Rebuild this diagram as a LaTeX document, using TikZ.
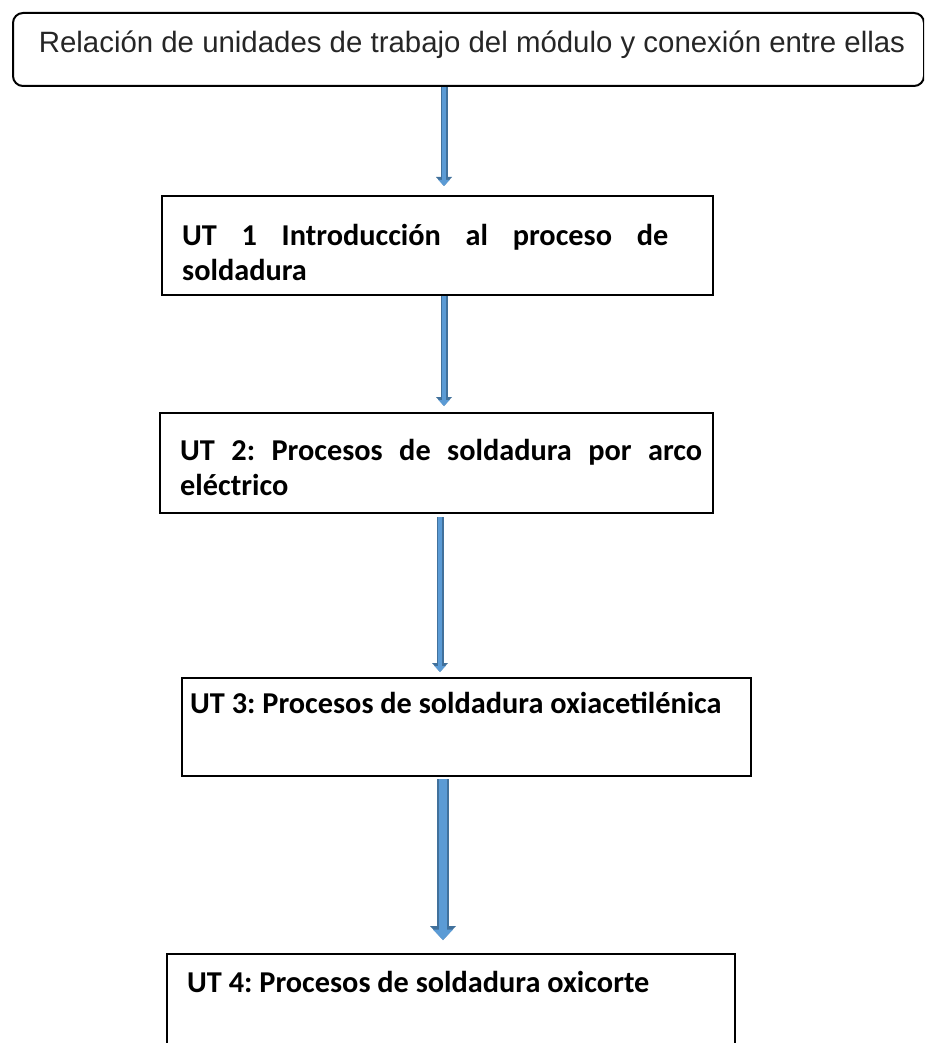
\documentclass[tikz,border=0pt]{standalone}
\usepackage{fontspec}
\setmainfont{Carlito}
\newfontfamily\arialfont{Liberation Sans}
\usetikzlibrary{arrows.meta,calc,positioning}
\definecolor{arrowFill}{HTML}{5B9BD5}
\definecolor{arrowLine}{HTML}{41719C}
\definecolor{titleInk}{HTML}{262626}
\hyphenpenalty=10000
\exhyphenpenalty=10000
\frenchspacing
\begin{document}
\begin{tikzpicture}[x=1pt,y=-1pt,
    utBox/.style={rectangle,draw=black,line width=2pt,inner sep=0pt,anchor=north west},
    titleBox/.style={utBox,rounded corners=10pt},
    titleText/.style={anchor=base,inner sep=0pt,text=titleInk,font=\arialfont\fontsize{29.4}{34}\selectfont},
    utText/.style={anchor=base west,inner sep=0pt,align=justify,font=\fontsize{30.3}{35}\bfseries\selectfont},
    flowArrow/.style={draw=arrowLine,line width=7pt,-{Triangle[width=16pt,length=9pt,line width=0pt]},
        postaction={draw=arrowFill,line width=4pt,-{Triangle[width=11pt,length=6pt,line width=0pt]}}},
    flowArrowBig/.style={draw=arrowLine,line width=12pt,-{Triangle[width=26pt,length=14pt,line width=0pt]},
        postaction={draw=arrowFill,line width=8.5pt,-{Triangle[width=20pt,length=10.5pt,line width=0pt]}}},
]
\useasboundingbox (0,0) rectangle (924,1043);
\clip (0,0) rectangle (924,1043);
% === title ===
\node[titleBox,minimum width=911pt,minimum height=73pt] (title) at (12,12) {};
\node[titleText] (titleTxt) at (472,53) {Relación de unidades de trabajo del módulo y conexión entre ellas};
% === units ===
\node[utBox,minimum width=551pt,minimum height=99pt] (ut1) at (161,195) {};
\node[utText,text width=486pt] (ut1Txt) at (182,245) {UT 1 Introducción al proceso de soldadura};
\node[utBox,minimum width=553pt,minimum height=100pt] (ut2) at (159,412) {};
\node[utText,text width=522pt] (ut2Txt) at (180,460) {UT 2: Procesos de soldadura por arco eléctrico};
\node[utBox,minimum width=569pt,minimum height=98pt] (ut3) at (181,677) {};
\node[utText] (ut3Txt) at (190,713) {UT 3: Procesos de soldadura oxiacetilénica};
\node[utBox,minimum width=568pt,minimum height=120pt] (ut4) at (166,953) {};
\node[utText] (ut4Txt) at (187,992) {UT 4: Procesos de soldadura oxicorte};
% === arrows ===
\draw[flowArrow,shorten >=9pt] ($(ut1.north |- title.south)+(6.5,0)$) -- ($(ut1.north)+(6.5,0)$);
\draw[flowArrow,shorten >=6pt] ($(ut1.south)+(6.5,0)$) -- ($(ut1.south |- ut2.north)+(6.5,0)$);
\draw[flowArrow,shorten <=3pt,shorten >=5pt] ($(ut2.south)+(3.5,0)$) -- ($(ut2.south |- ut3.north)+(3.5,0)$);
\draw[flowArrowBig,shorten <=2pt,shorten >=13pt] ($(ut3.south)+(-23.5,0)$) -- ($(ut3.south |- ut4.north)+(-23.5,0)$);
\end{tikzpicture}
\end{document}
